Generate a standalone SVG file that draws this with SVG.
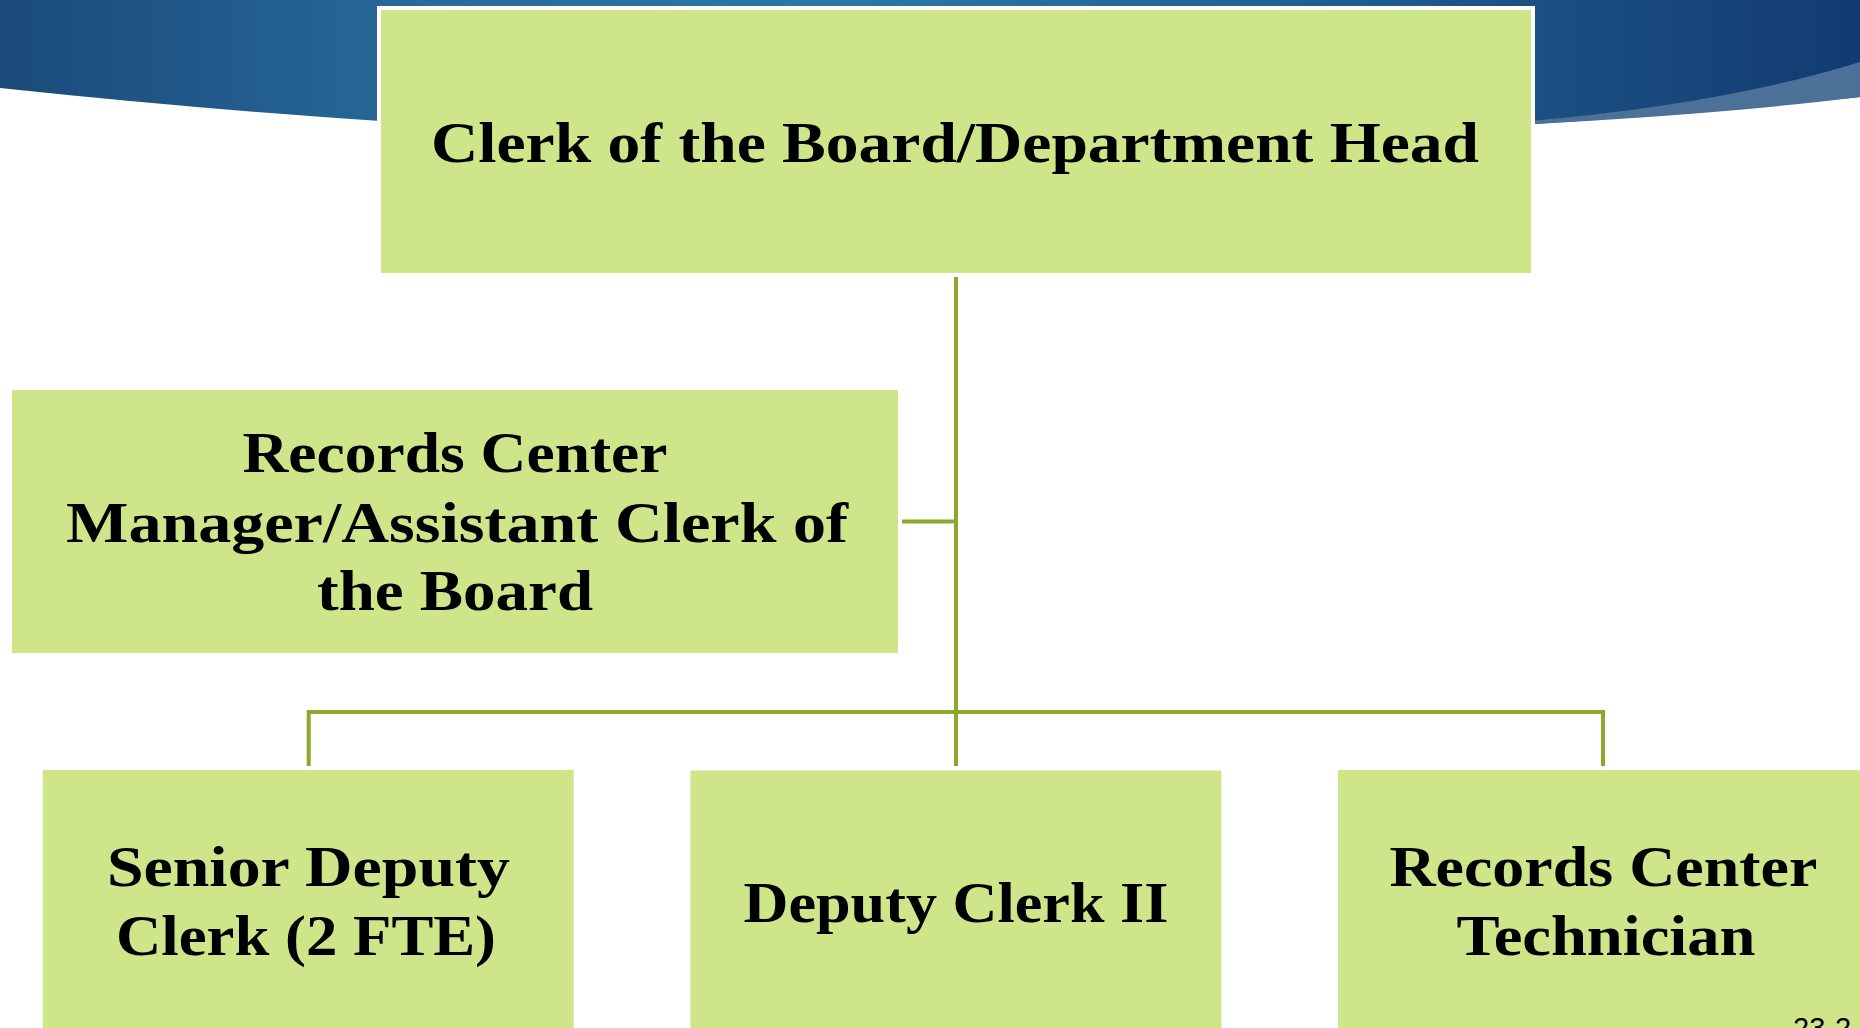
<svg xmlns="http://www.w3.org/2000/svg" width="1860" height="1028" viewBox="0 0 1860 1028">
<style>
.box{fill:#CFE589}
.lbl{font-family:"Liberation Serif","Times New Roman",serif;font-weight:bold;font-size:58px;fill:#000;text-anchor:middle}
.con{fill:none;stroke:#8AAA2B;stroke-width:4;stroke-linejoin:miter;stroke-linecap:butt}
</style>
<defs>
<linearGradient id="band" x1="0" y1="0" x2="1860" y2="0" gradientUnits="userSpaceOnUse">
<stop offset="0" stop-color="#1A4A7A"/>
<stop offset="0.22" stop-color="#27699A"/>
<stop offset="0.45" stop-color="#2B79A3"/>
<stop offset="0.7" stop-color="#21608E"/>
<stop offset="1" stop-color="#123A71"/>
</linearGradient>
</defs>
<rect x="0" y="0" width="1860" height="1028" fill="#FFFFFF"/>
<g id="background">
<path d="M0,0 H1860 V97 Q955,190 0,88 Z" fill="url(#band)"/>
<path d="M1450,127 Q1700,112 1860,62 V97 Q1700,117 1450,128 Z" fill="#4B7199"/>
</g>
<g id="connectors">
<line class="con" x1="956" y1="277" x2="956" y2="766"/>
<line class="con" x1="902" y1="521.5" x2="956" y2="521.5"/>
<path class="con" d="M308.7,766 V712 H1603 V766"/>
</g>
<g id="node-head">
<rect x="377" y="6" width="1158" height="271" fill="#FFFFFF"/>
<rect class="box" x="381" y="10" width="1150" height="263"/>
<text class="lbl" x="955" y="161.5" font-size="60" textLength="1048" lengthAdjust="spacingAndGlyphs">Clerk of the Board/Department Head</text>
</g>
<g id="node-manager">
<rect class="box" x="12" y="390" width="886" height="263"/>
<text class="lbl" x="455" y="471.5" textLength="425" lengthAdjust="spacingAndGlyphs">Records Center</text>
<text class="lbl" x="457" y="541.5" textLength="782" lengthAdjust="spacingAndGlyphs">Manager/Assistant Clerk of</text>
<text class="lbl" x="455" y="610" textLength="276" lengthAdjust="spacingAndGlyphs">the Board</text>
</g>
<g id="node-senior">
<rect class="box" x="42.7" y="770" width="531" height="260"/>
<text class="lbl" x="308.4" y="886" textLength="403" lengthAdjust="spacingAndGlyphs">Senior Deputy</text>
<text class="lbl" x="306" y="955" textLength="380" lengthAdjust="spacingAndGlyphs">Clerk (2 FTE)</text>
</g>
<g id="node-deputy">
<rect class="box" x="690.4" y="770.5" width="531" height="260"/>
<text class="lbl" x="956" y="922" textLength="425" lengthAdjust="spacingAndGlyphs">Deputy Clerk II</text>
</g>
<g id="node-technician">
<rect class="box" x="1338" y="770" width="531" height="260"/>
<text class="lbl" x="1603.4" y="886" textLength="428" lengthAdjust="spacingAndGlyphs">Records Center</text>
<text class="lbl" x="1606" y="955" textLength="299" lengthAdjust="spacingAndGlyphs">Technician</text>
</g>
<text x="1793" y="1038" font-family="'Liberation Sans',Arial,sans-serif" font-size="29" fill="#000">23-2</text>
</svg>
